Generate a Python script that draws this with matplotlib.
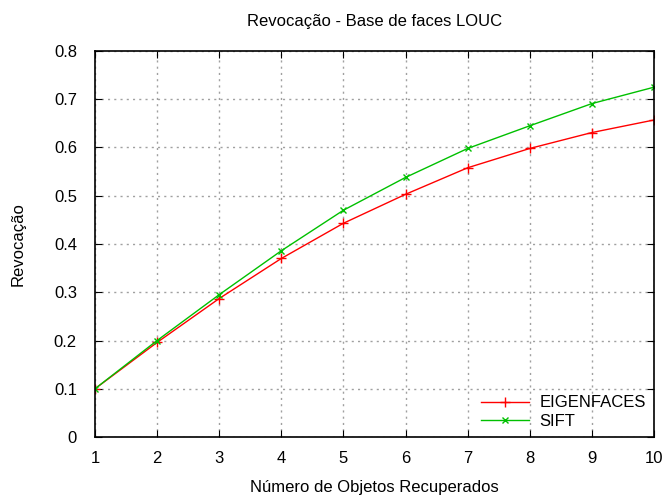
import matplotlib
matplotlib.use("Agg")
import matplotlib.pyplot as plt

plt.rcParams['font.family'] = ['Liberation Sans', 'DejaVu Sans']

x = [1, 2, 3, 4, 5, 6, 7, 8, 9, 10]
eigenfaces = [0.1, 0.196, 0.287, 0.37, 0.443, 0.503, 0.558, 0.598, 0.631, 0.657]
sift = [0.1, 0.2, 0.295, 0.386, 0.47, 0.538, 0.598, 0.645, 0.691, 0.725]

fig = plt.figure(figsize=(6.66, 4.97), dpi=100)
ax = fig.add_axes([0.1426, 0.1207, 0.982 - 0.1426, 0.8974 - 0.1207])

ax.plot(x, eigenfaces, color='#ff0000', marker='+', markersize=7, linewidth=1, label='EIGENFACES')
ax.plot(x, sift, color='#00c000', marker='x', markersize=5, linewidth=1, label='SIFT')

ax.set_xlim(1, 10)
ax.set_ylim(0, 0.8)
ax.set_xticks(range(1, 11))
ax.set_yticks([0, 0.1, 0.2, 0.3, 0.4, 0.5, 0.6, 0.7, 0.8])
ax.set_yticklabels(['0', '0.1', '0.2', '0.3', '0.4', '0.5', '0.6', '0.7', '0.8'])
ax.tick_params(direction='in', top=True, right=True, labelsize=12, colors='black', length=5)
ax.tick_params(axis='x', pad=10)
ax.tick_params(axis='y', pad=13)
ax.grid(True, color='#a0a0a0', linestyle=(0, (1.5, 3)), linewidth=1)
for s in ax.spines.values():
    s.set_linewidth(1.2)

ax.set_title('Revocação - Base de faces LOUC', fontsize=12, pad=18)
ax.set_xlabel('Número de Objetos Recuperados', fontsize=12, labelpad=10)
ax.set_ylabel('Revocação', fontsize=12, labelpad=20)

ax.legend(loc='lower right', frameon=False, fontsize=12, handlelength=2.9,
          handletextpad=0.6, borderaxespad=0.1, labelspacing=0.2)

fig.savefig('out.png', dpi=100)
